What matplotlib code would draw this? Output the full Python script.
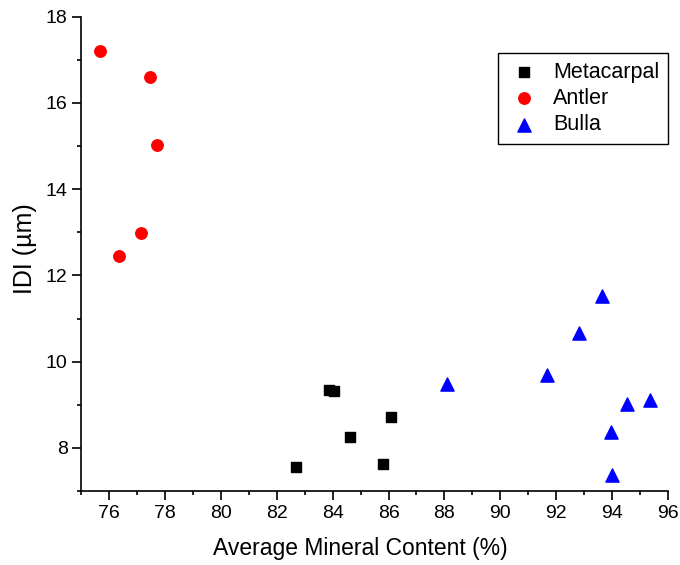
import numpy as np
import matplotlib
matplotlib.use("Agg")
import matplotlib.pyplot as plt
from matplotlib.ticker import MultipleLocator

plt.rcParams['font.family'] = ['Liberation Sans', 'DejaVu Sans']

# data
meta_x = [83.88, 84.06, 86.10, 84.62, 82.69, 85.81]
meta_y = [9.35, 9.33, 8.72, 8.26, 7.55, 7.63]

antler_x = [75.66, 77.45, 77.72, 77.12, 76.36]
antler_y = [17.20, 16.60, 15.02, 12.98, 12.44]

bulla_x = [93.63, 92.83, 91.69, 88.08, 94.53, 95.37, 93.97, 94.02]
bulla_y = [11.53, 10.66, 9.69, 9.49, 9.01, 9.12, 8.36, 7.38]

fig = plt.figure(figsize=(6.8, 5.65), dpi=100)
ax = fig.add_axes([0.1197, 0.131, 0.8623, 0.8394])

ax.scatter(meta_x, meta_y, marker='s', s=52, color='black', label='Metacarpal', zorder=3)
ax.scatter(antler_x, antler_y, marker='o', s=68, color='red', label='Antler', zorder=3)
ax.scatter(bulla_x, bulla_y, marker='^', s=90, color='blue', label='Bulla', zorder=3)

ax.set_xlim(75, 96)
ax.set_ylim(7, 18)
ax.xaxis.set_major_locator(MultipleLocator(2))
ax.xaxis.set_minor_locator(MultipleLocator(1))
ax.yaxis.set_major_locator(MultipleLocator(2))
ax.yaxis.set_minor_locator(MultipleLocator(1))

ax.spines['top'].set_visible(False)
ax.spines['right'].set_visible(False)
for s in ['left', 'bottom']:
    ax.spines[s].set_linewidth(1.2)
ax.tick_params(which='major', direction='out', length=6.5, width=1.2, labelsize=14)
ax.tick_params(which='minor', direction='out', length=3.2, width=1.2)

ax.set_xlabel('Average Mineral Content (%)', fontsize=16.5)
ax.set_ylabel('IDI (µm)', fontsize=18)
# Origin puts the titles a bit off centre
ax.xaxis.set_label_coords(0.475, -0.098)
ax.yaxis.set_label_coords(-0.076, 0.51)

leg = ax.legend(loc='upper right', bbox_to_anchor=(668/680, 1 - 53/565),
                bbox_transform=fig.transFigure, borderaxespad=0, fontsize=15.5,
                fancybox=False, framealpha=1, edgecolor='black',
                handletextpad=0.55, labelspacing=0.25, borderpad=0.4, handlelength=1.6)
leg.get_frame().set_linewidth(1.0)

fig.savefig('out.png', dpi=100)
